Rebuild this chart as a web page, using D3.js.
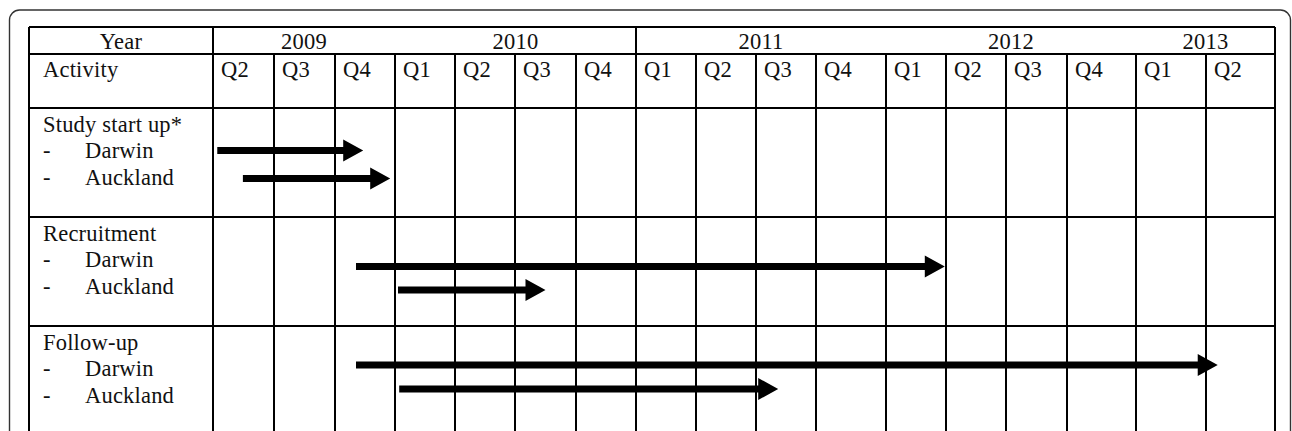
<!DOCTYPE html>
<html>
<head>
<meta charset="utf-8">
<script src="https://cdn.jsdelivr.net/npm/d3@7"></script>
<style>
  html, body { margin: 0; padding: 0; background: #fff; }
  svg text { font-family: "Liberation Serif", "Times New Roman", serif; font-size: 22.5px; letter-spacing: 0.2px; fill: #111; }
</style>
</head>
<body>
<div id="chart"></div>
<script>
// quarters shown across the top, with the year each belongs to
var quarters = ["Q2","Q3","Q4","Q1","Q2","Q3","Q4","Q1","Q2","Q3","Q4","Q1","Q2","Q3","Q4","Q1","Q2"]
var quarterYear = ["2009","2009","2009","2010","2010","2010","2010","2011","2011","2011","2011",
                   "2012","2012","2012","2012","2013","2013"]

// activities and sites
var groups = ["Study start up*", "Recruitment", "Follow-up"]
var sites = ["Darwin", "Auckland"]

// arrow start / end, in quarters from the start of Q2 2009 (per group, per site)
var arrowStart = [[0.07, 0.49], [2.35, 3.05], [2.35, 3.07]]
var arrowEnd   = [[2.47, 2.92], [11.98, 5.5], [16.17, 9.37]]

// ---- layout ----
var W = 1292, H = 431
var tableLeft = 29, labelRight = 213
var colWidths = [61,61,60,60,60,61,60,60,60,60,70,60,60,61,69,70,69]
var rowEdges = [27, 54, 108, 217, 326, 435]
var yearDividers = [7]              // quarter index where the year row has a line
var laneY = [[42.5, 70.5], [49.5, 73], [39, 63]]
var shaft = 7, headLen = 20, headHalf = 11

var bounds = [labelRight]
colWidths.forEach(function (w, i) { bounds.push(bounds[i] + w) })
var tableRight = bounds[bounds.length - 1]

var x = d3.scaleLinear().domain(d3.range(bounds.length)).range(bounds)

var svg = d3.select("#chart").append("svg")
    .attr("width", W)
    .attr("height", H)

svg.append("rect").attr("width", W).attr("height", H).attr("fill", "#fff")

// outer rounded frame
svg.append("rect")
    .attr("x", 9.5).attr("y", 10)
    .attr("width", 1281).attr("height", 600)
    .attr("rx", 10)
    .attr("fill", "none")
    .attr("stroke", "#333")
    .attr("stroke-width", 1.4)

var grid = svg.append("g")
    .attr("stroke", "#000")
    .attr("stroke-width", 2)

// horizontal rules
grid.selectAll("line.h")
    .data(rowEdges)
    .enter().append("line")
    .attr("class", "h")
    .attr("x1", tableLeft).attr("x2", tableRight)
    .attr("y1", function (d) { return d }).attr("y2", function (d) { return d })

// outer verticals + label column
grid.selectAll("line.edge")
    .data([tableLeft, labelRight, tableRight])
    .enter().append("line")
    .attr("class", "edge")
    .attr("x1", function (d) { return d }).attr("x2", function (d) { return d })
    .attr("y1", rowEdges[0]).attr("y2", rowEdges[rowEdges.length - 1])

// quarter dividers below the year row
grid.selectAll("line.q")
    .data(d3.range(1, quarters.length))
    .enter().append("line")
    .attr("class", "q")
    .attr("x1", function (d) { return x(d) }).attr("x2", function (d) { return x(d) })
    .attr("y1", rowEdges[1]).attr("y2", rowEdges[rowEdges.length - 1])

// year dividers inside the year row
grid.selectAll("line.y")
    .data(yearDividers)
    .enter().append("line")
    .attr("class", "y")
    .attr("x1", function (d) { return x(d) }).attr("x2", function (d) { return x(d) })
    .attr("y1", rowEdges[0]).attr("y2", rowEdges[1])

// header text
svg.append("text").attr("x", (tableLeft + labelRight) / 2).attr("y", 49).attr("text-anchor", "middle").text("Year")
svg.append("text").attr("x", 43).attr("y", 77).text("Activity")

var years = d3.groups(quarters.map(function (q, i) { return { i: i, year: quarterYear[i] } }),
                      function (d) { return d.year })

svg.selectAll("text.year")
    .data(years)
    .enter().append("text")
    .attr("class", "year")
    .attr("text-anchor", "middle")
    .attr("x", function (d) {
      var first = d[1][0].i, last = d[1][d[1].length - 1].i + 1
      return (x(first) + x(last)) / 2
    })
    .attr("y", 49)
    .text(function (d) { return d[0] })

svg.selectAll("text.quarter")
    .data(quarters)
    .enter().append("text")
    .attr("class", "quarter")
    .attr("x", function (d, i) { return x(i) + 8 })
    .attr("y", 77)
    .text(function (d) { return d })

// activity blocks
groups.forEach(function (g, gi) {
  var top = rowEdges[gi + 2]
  svg.append("text").attr("x", 43).attr("y", top + 24).text(g)

  sites.forEach(function (s, si) {
    var base = top + 50 + si * 27
    svg.append("text").attr("x", 43).attr("y", base).text("-")
    svg.append("text").attr("x", 85).attr("y", base).text(s)

    var x0 = x(arrowStart[gi][si]), x1 = x(arrowEnd[gi][si])
    var yc = top + laneY[gi][si]
    var hx = x1 - headLen
    svg.append("path")
        .attr("fill", "#000")
        .attr("d", "M" + x0 + "," + (yc - shaft / 2) +
                   "L" + hx + "," + (yc - shaft / 2) +
                   "L" + hx + "," + (yc - headHalf) +
                   "L" + x1 + "," + yc +
                   "L" + hx + "," + (yc + headHalf) +
                   "L" + hx + "," + (yc + shaft / 2) +
                   "L" + x0 + "," + (yc + shaft / 2) + "Z")
  })
})
</script>
</body>
</html>
